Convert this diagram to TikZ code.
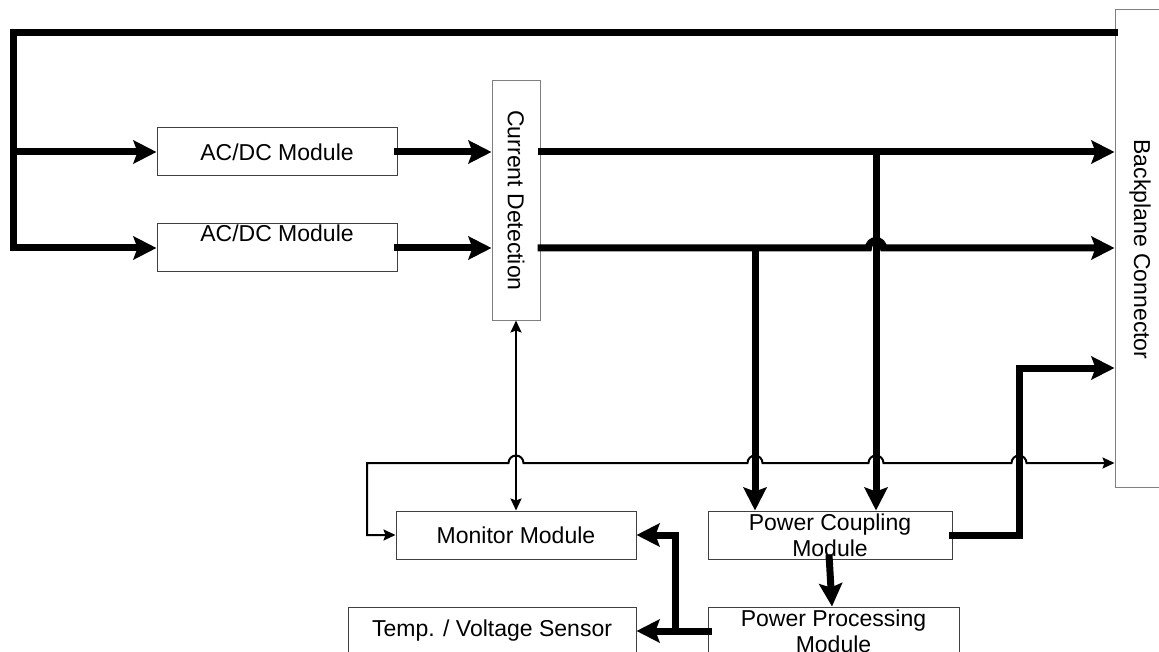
\documentclass[tikz,border=0pt]{standalone}
\usepackage{fontspec}
\setmainfont{Liberation Sans}
\usetikzlibrary{arrows.meta,calc}
\tikzset{
  box/.style={draw=black!75, line width=1pt, inner sep=0pt, font=\fontsize{23}{26}\selectfont, align=center},
  vbox/.style={draw=black!50, line width=1pt, inner sep=0pt},
  txt/.style={inner sep=0pt, font=\fontsize{23}{26}\selectfont, align=center},
  bigtip/.tip={Stealth[length=23pt,width=23pt,inset=4pt]},
  smalltip/.tip={Stealth[length=12pt,width=11pt,inset=2pt]},
  bus/.style={line width=7pt, -bigtip},
  sig/.style={line width=2pt},
}
\begin{document}
\begin{tikzpicture}[x=1pt,y=-1pt]
\useasboundingbox (0,0) rectangle (1159,652);
\clip (0,0) rectangle (1159,652);

% boxes
\node[box, minimum width=240pt, minimum height=48pt] (ac1) at (277,152) {AC/DC Module};
\node[box, minimum width=240pt, minimum height=48pt] (ac2) at (277,248) {};
\node[txt] (ac2t) at (277,233) {AC/DC Module};
\node[vbox, minimum width=48pt, minimum height=239pt] (cd) at (516,200.5) {};
\node[txt, rotate=-90] (cdt) at (cd.center) {Current Detection};
\node[vbox, minimum width=51pt, minimum height=478pt] (bp) at (1140.5,248.5) {};
\node[txt, rotate=-90] (bpt) at (1140,249.5) {Backplane Connector};
\node[box, minimum width=240pt, minimum height=48pt] (mon) at (516,535) {Monitor Module};
\node[box, minimum width=288pt, minimum height=48pt] (tmp) at (492,631) {Temp. / Voltage Sensor};
\node[box, minimum width=244pt, minimum height=48pt] (pc) at (830,535) {Power Coupling\\Module};
\node[box, minimum width=251pt, minimum height=48pt] (pp) at (833.5,631) {Power Processing\\Module};

% helper coordinates
\coordinate (tl) at (13,33);
\coordinate (j2) at (876,152);
\coordinate (j1) at (755,248);
\coordinate (sl) at (367,463);
\coordinate (c3) at (1019,368);
\coordinate (c4) at (675,631);

% power bus
\draw[bus] ($(bp.west |- tl)+(3,0)$) -- (tl) |- (ac2.west);
\draw[bus] (tl |- ac1.west) -- (ac1.west);
\draw[bus] ($(ac1.east)+(-4,0)$) -- (cd.west |- ac1.east);
\draw[bus] ($(ac2.east)+(-4,0)$) -- (cd.west |- ac2.east);
\draw[bus] ($(cd.east |- ac1.east)+(-3,0)$) -- (bp.west |- ac1.east);
\draw[bus] ($(cd.east |- ac2.east)+(-3,0)$) -- ($(j2 |- ac2.east)+(-7.5,0)$)
   arc[start angle=180, end angle=0, radius=7.5pt] -- (bp.west |- ac2.east);
\draw[bus] (j2) -- (j2 |- pc.north);
\draw[bus] (j1) -- (j1 |- pc.north);

% signal line
\draw[sig, smalltip-smalltip] (mon.west) -| (sl)
   -- ($(cd.south |- sl)+(-7.5,0)$) arc[start angle=180, end angle=0, radius=7.5pt]
   -- ($(j1 |- sl)+(-7.5,0)$) arc[start angle=180, end angle=0, radius=7.5pt]
   -- ($(j2 |- sl)+(-7.5,0)$) arc[start angle=180, end angle=0, radius=7.5pt]
   -- ($(c3 |- sl)+(-7.5,0)$) arc[start angle=180, end angle=0, radius=7.5pt]
   -- (bp.west |- sl);
\draw[sig, smalltip-smalltip] (cd.south) -- (mon.north);

% lower power paths
\draw[bus] ($(pc.east)+(-4,0)$) -| (c3) -- (bp.west |- c3);
\draw[bus] ($(pc.south)+(-1,-5)$) -- ($(pp.north)+(-1.5,0)$);
\draw[bus] ($(pp.west)+(4,0)$) -- (tmp.east);
\draw[bus] (c4) |- (mon.east);
\end{tikzpicture}
\end{document}
